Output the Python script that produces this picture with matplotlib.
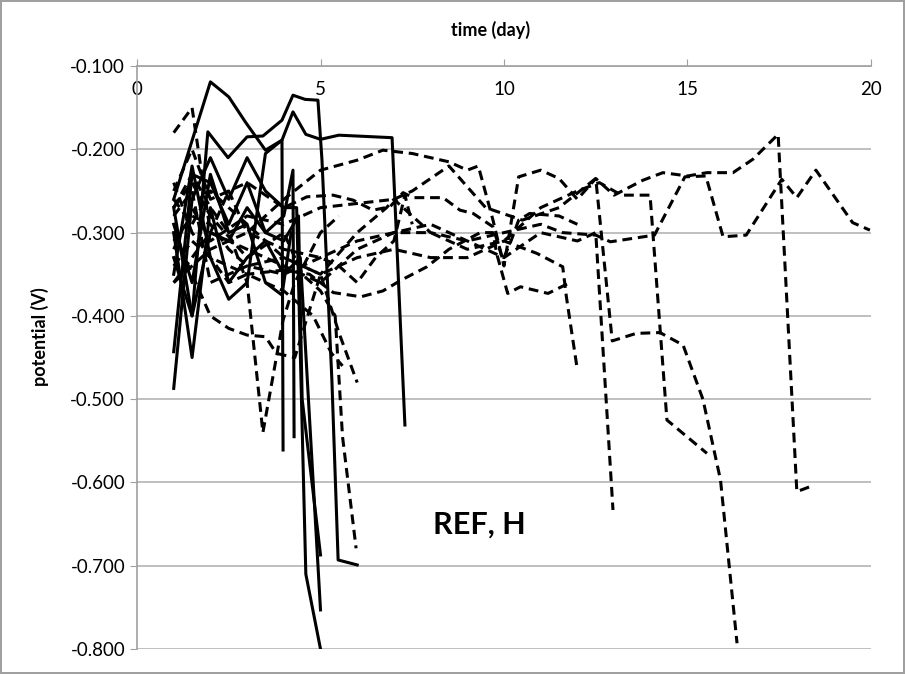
import matplotlib
matplotlib.use("Agg")
import matplotlib.pyplot as plt
import numpy as np

# solid series (time in days, potential in V)
s1_t = [1.0, 2.0, 2.5, 2.95, 3.5, 3.95, 4.25, 4.6, 5.0, 5.5, 6.95, 7.3]
s1_v = [-0.26, -0.119, -0.137, -0.167, -0.201, -0.189, -0.155, -0.182, -0.188, -0.183, -0.186, -0.531]
s2_t = [1.0, 1.5, 1.93, 2.48, 3.0, 3.43, 3.95, 4.25, 4.58, 4.93, 5.04, 5.31, 5.48, 6.0]
s2_v = [-0.33, -0.40, -0.179, -0.21, -0.185, -0.184, -0.165, -0.135, -0.14, -0.141, -0.213, -0.477, -0.693, -0.699]
s3_t = [1.0, 1.5, 2.0, 2.5, 3.0, 3.5, 4.0, 4.35, 4.6, 5.0]
s3_v = [-0.487, -0.26, -0.21, -0.26, -0.21, -0.25, -0.27, -0.27, -0.71, -0.80]
s4_t = [1.0, 1.5, 2.0, 2.5, 3.0, 3.5, 4.0, 4.4, 4.5, 5.0]
s4_v = [-0.443, -0.23, -0.24, -0.29, -0.24, -0.30, -0.31, -0.28, -0.50, -0.687]
s5_t = [1.0, 1.5, 2.0, 2.5, 3.0, 3.5, 4.0, 4.45, 5.0]
s5_v = [-0.30, -0.45, -0.27, -0.36, -0.33, -0.31, -0.35, -0.33, -0.753]
s6_t = [1.0, 1.5, 2.0, 2.5, 3.0, 3.5, 4.0, 4.25, 4.28]
s6_v = [-0.27, -0.40, -0.30, -0.31, -0.27, -0.30, -0.28, -0.225, -0.545]
s7_t = [1.0, 1.5, 2.0, 2.5, 3.0, 3.5, 3.95, 3.98]
s7_v = [-0.35, -0.22, -0.33, -0.38, -0.36, -0.205, -0.189, -0.561]
s8_t = [1.0, 1.5, 2.0, 2.5, 3.0, 3.5, 3.95, 4.2]
s8_v = [-0.29, -0.36, -0.23, -0.30, -0.29, -0.36, -0.375, -0.30]

# dashed series
da_t = [1.0, 1.5, 2.0, 2.5, 3.0, 3.5, 4.0, 5.0, 6.0, 6.7, 7.5, 8.5, 9.0, 9.3, 9.7, 10.0, 10.4,
        11.0, 11.5, 12.0, 12.5, 13.0, 13.79, 14.33, 15.0, 15.53, 16.24, 16.78, 17.47, 17.98, 18.34]
da_v = [-0.18, -0.15, -0.30, -0.25, -0.30, -0.28, -0.26, -0.225, -0.213, -0.201, -0.205, -0.215,
        -0.225, -0.22, -0.285, -0.34, -0.233, -0.225, -0.235, -0.26, -0.235, -0.255, -0.237,
        -0.228, -0.232, -0.228, -0.228, -0.212, -0.182, -0.611, -0.605]
db_t = [1.0, 1.5, 2.0, 2.5, 3.0, 4.0, 5.0, 6.0, 6.8, 7.0, 8.0, 9.0, 10.0, 11.0, 11.6, 12.5, 12.9,
        14.1, 14.93, 15.5, 15.97, 16.6, 17.57, 17.98, 18.5, 19.5, 19.97]
db_v = [-0.26, -0.29, -0.25, -0.27, -0.29, -0.33, -0.35, -0.30, -0.27, -0.26, -0.30, -0.31, -0.30,
        -0.29, -0.30, -0.303, -0.311, -0.303, -0.233, -0.232, -0.305, -0.303, -0.236, -0.258,
        -0.225, -0.288, -0.297]
dc_t = [1.0, 1.5, 2.0, 3.0, 4.0, 5.0, 6.0, 7.0, 8.0, 9.0, 10.0, 11.0, 12.0, 12.6, 13.2, 13.98, 14.44, 15.53]
dc_v = [-0.28, -0.25, -0.36, -0.34, -0.35, -0.33, -0.31, -0.30, -0.30, -0.32, -0.31, -0.27, -0.25,
        -0.24, -0.255, -0.255, -0.525, -0.565]
dd_t = [1.0, 1.5, 2.0, 3.0, 4.0, 5.0, 6.0, 7.0, 7.5, 8.5, 9.5, 10.5, 11.5, 12.5, 12.95, 13.6, 14.25,
        14.88, 15.42, 15.9, 16.35]
dd_v = [-0.32, -0.27, -0.31, -0.28, -0.29, -0.27, -0.265, -0.26, -0.25, -0.22, -0.27, -0.285, -0.27,
        -0.235, -0.43, -0.421, -0.42, -0.435, -0.50, -0.597, -0.793]
de_t = [1.0, 1.5, 2.0, 3.0, 4.0, 5.0, 6.0, 7.0, 8.0, 9.0, 10.0, 11.0, 12.0, 12.5, 12.97]
de_v = [-0.36, -0.33, -0.30, -0.32, -0.34, -0.36, -0.32, -0.30, -0.29, -0.31, -0.33, -0.30, -0.31,
        -0.30, -0.633]
df_t = [1.0, 1.5, 2.0, 2.5, 3.0, 3.5, 3.8, 4.3, 5.0, 6.0, 7.0, 8.0, 9.0, 10.0, 10.9, 11.6, 11.7, 12.0]
df_v = [-0.30, -0.35, -0.40, -0.415, -0.423, -0.425, -0.445, -0.45, -0.35, -0.33, -0.32, -0.33,
        -0.33, -0.31, -0.325, -0.341, -0.377, -0.465]
dg_t = [1.0, 1.5, 2.0, 2.5, 3.0, 3.5, 4.0, 4.8, 5.3, 5.6]
dg_v = [-0.24, -0.30, -0.33, -0.36, -0.35, -0.36, -0.37, -0.40, -0.445, -0.46]
dh_t = [1.0, 1.5, 2.0, 3.0, 4.0, 4.5, 5.0, 5.4, 5.6, 5.97]
dh_v = [-0.27, -0.24, -0.28, -0.33, -0.30, -0.35, -0.37, -0.40, -0.545, -0.679]
di_t = [1.0, 1.5, 2.0, 2.5, 3.0, 3.43, 3.98, 4.3, 5.0, 5.5]
di_v = [-0.27, -0.23, -0.27, -0.30, -0.36, -0.54, -0.405, -0.36, -0.30, -0.28]
dj_t = [1.0, 1.5, 2.0, 3.0, 4.0, 4.7, 5.35, 6.1, 6.7, 7.2, 7.9, 8.5, 9.35, 9.7, 9.8, 10.1, 10.45, 11.2, 11.8]
dj_v = [-0.34, -0.31, -0.33, -0.35, -0.345, -0.35, -0.372, -0.377, -0.37, -0.357, -0.341, -0.32,
        -0.30, -0.30, -0.325, -0.373, -0.365, -0.373, -0.36]
dk_t = [1.0, 1.5, 2.0, 3.0, 4.0, 4.63, 5.34, 5.89, 6.43, 6.89, 7.25, 7.52, 8.34, 8.8, 9.16, 9.7,
        9.97, 10.2, 10.4, 10.7, 11.5, 12.0]
dk_v = [-0.25, -0.20, -0.26, -0.24, -0.27, -0.257, -0.255, -0.261, -0.273, -0.269, -0.252, -0.258,
        -0.258, -0.273, -0.277, -0.293, -0.333, -0.309, -0.285, -0.277, -0.28, -0.29]
dl_t = [1.0, 1.5, 2.0, 3.0, 4.0, 5.0, 5.5, 6.0, 6.5, 7.0, 7.3, 7.5]
dl_v = [-0.36, -0.34, -0.32, -0.30, -0.32, -0.33, -0.34, -0.36, -0.33, -0.31, -0.255, -0.29]
dm_t = [1.0, 1.5, 2.0, 2.5, 3.0, 4.0, 5.0, 5.5, 6.0]
dm_v = [-0.31, -0.28, -0.29, -0.32, -0.34, -0.33, -0.35, -0.42, -0.48]

solid = [(s1_t, s1_v), (s2_t, s2_v), (s3_t, s3_v), (s4_t, s4_v),
         (s5_t, s5_v), (s6_t, s6_v), (s7_t, s7_v), (s8_t, s8_v)]
dashed = [(da_t, da_v), (db_t, db_v), (dc_t, dc_v), (dd_t, dd_v), (de_t, de_v), (df_t, df_v),
          (dg_t, dg_v), (dh_t, dh_v), (di_t, di_v), (dj_t, dj_v), (dk_t, dk_v), (dl_t, dl_v),
          (dm_t, dm_v)]

y_ticks = [-0.1, -0.2, -0.3, -0.4, -0.5, -0.6, -0.7, -0.8]
x_ticks = [0, 5, 10, 15, 20]


def main():
    plt.rcParams["font.family"] = ["Lato", "DejaVu Sans"]
    fig = plt.figure(figsize=(9.05, 6.74), dpi=100)
    fig.patch.set_edgecolor("#a0a0a0")
    fig.patch.set_linewidth(1.5)
    ax = fig.add_axes([0.1514, 0.037, 0.811, 0.865])

    for t, v in dashed:
        ax.plot(t, v, color="black", lw=2.2, dashes=(3.2, 1.9))
    for t, v in solid:
        ax.plot(t, v, color="black", lw=2.2)

    ax.set_xlim(0, 20)
    ax.set_ylim(-0.8, -0.1)

    # horizontal grid
    ax.set_yticks(y_ticks, [f"{y:.3f}" for y in y_ticks])
    ax.yaxis.grid(True, color="#b4b4b4", lw=1.2)
    ax.set_axisbelow(True)

    # x axis crosses at the top (-0.1), labels sit below it
    ax.xaxis.tick_top()
    ax.set_xticks(x_ticks)
    ax.tick_params(axis="x", direction="out", length=5, color="#a0a0a0",
                   pad=-28, labelsize=13.5)
    ax.tick_params(axis="y", direction="out", length=5, color="#a0a0a0", labelsize=13.5)

    for side in ("bottom", "right"):
        ax.spines[side].set_visible(False)
    for side in ("top", "left"):
        ax.spines[side].set_color("#a0a0a0")
        ax.spines[side].set_linewidth(1.2)

    fig.text(0.542, 0.955, "time (day)", ha="center", va="center",
             fontsize=13, fontweight="bold")
    fig.text(0.044, 0.5, "potential (V)", ha="center", va="center",
             rotation=90, fontsize=13, fontweight="bold")
    ax.text(0.467, 0.213, "REF, H", transform=ax.transAxes, ha="center", va="center",
            fontsize=22, fontweight="bold")

    fig.savefig("out.png", dpi=100)


if __name__ == "__main__":
    main()
